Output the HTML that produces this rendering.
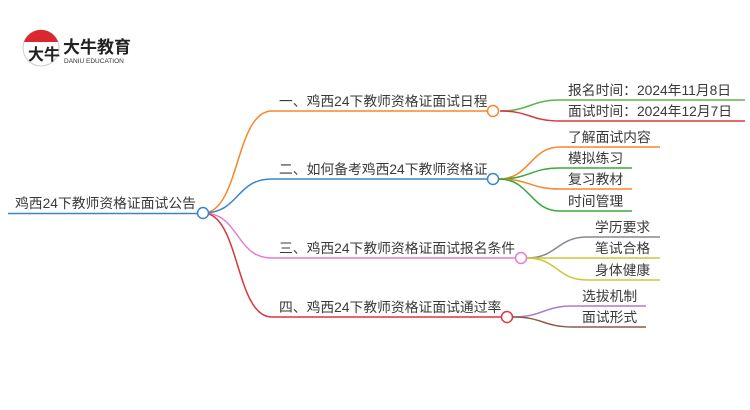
<!DOCTYPE html>
<html><head><meta charset="utf-8"><style>
html,body{margin:0;padding:0;background:#fff;width:750px;height:410px;overflow:hidden}
text{font-family:"Liberation Sans","Noto Sans CJK SC",sans-serif;font-size:13.8px;fill:#3a3a3a}
</style></head><body>
<svg width="750" height="410" viewBox="0 0 750 410" xmlns="http://www.w3.org/2000/svg">
<!-- logo -->
<circle cx="41" cy="48" r="18" fill="#fff" stroke="#ccc" stroke-width="1"/>
<path d="M24,42 A18,18 0 0 1 58,42 Z" fill="#d9282f"/>
<text x="28" y="60" style="font-size:16px;fill:#222;font-weight:bold">大牛</text>
<text x="63" y="53" style="font-size:17px;fill:#222;font-weight:bold">大牛教育</text>
<text x="64" y="63" style="font-size:6.5px;fill:#333">DANIU EDUCATION</text>

<g fill="none" stroke-width="1.5">
<line x1="8" y1="213.5" x2="197" y2="213.5" stroke="#3a86c8"/>
<path d="M203,213 C240,213 235,111 272,111 L487,111" stroke="#f7862a"/>
<path d="M203,213 C240,213 235,179 272,179 L487,179" stroke="#3a86c8"/>
<path d="M203,213 C240,213 235,258 272,258 L515,258" stroke="#e57dc8"/>
<path d="M203,213 C240,213 235,317 272,317 L501,317" stroke="#d9363e"/>
<path d="M500,111 C530,111 530,100 560,100 L745,100" stroke="#5cb54a"/>
<path d="M500,111 C530,111 530,121 560,121 L745,121" stroke="#d9363e"/>
<path d="M499,179 C530,179 530,147 560,147 L660,147" stroke="#f7862a"/>
<path d="M499,179 C530,179 530,168 560,168 L632,168" stroke="#3aa83a"/>
<path d="M499,179 C530,179 530,189 560,189 L632,189" stroke="#f7862a"/>
<path d="M499,179 C530,179 530,211 560,211 L632,211" stroke="#3aa83a"/>
<path d="M527,258 C557,258 557,237 587,237 L660,237" stroke="#888"/>
<path d="M527,258 L660,258" stroke="#c8c83a"/>
<path d="M527,258 C557,258 557,280 587,280 L660,280" stroke="#c8c83a"/>
<path d="M513,317 C543,317 543,306 573,306 L646,306" stroke="#a77fd0"/>
<path d="M513,317 C543,317 543,327 573,327 L646,327" stroke="#8b5a4a"/>
</g>
<g fill="#fff" stroke-width="1.5">
<circle cx="203" cy="213" r="5.5" stroke="#3a86c8"/>
<circle cx="493" cy="111" r="5.5" stroke="#f7862a"/>
<circle cx="493" cy="179" r="5.5" stroke="#3a86c8"/>
<circle cx="521" cy="258" r="5.5" stroke="#e57dc8"/>
<circle cx="507" cy="317" r="5.5" stroke="#d9363e"/>
</g>
<text x="15" y="208">鸡西24下教师资格证面试公告</text>
<text x="279" y="106">一、鸡西24下教师资格证面试日程</text>
<text x="279" y="174">二、如何备考鸡西24下教师资格证</text>
<text x="279" y="253">三、鸡西24下教师资格证面试报名条件</text>
<text x="279" y="312">四、鸡西24下教师资格证面试通过率</text>
<text x="568" y="95">报名时间：2024年11月8日</text>
<text x="568" y="116">面试时间：2024年12月7日</text>
<text x="568" y="142">了解面试内容</text>
<text x="568" y="163">模拟练习</text>
<text x="568" y="184">复习教材</text>
<text x="568" y="206">时间管理</text>
<text x="595" y="232">学历要求</text>
<text x="595" y="253">笔试合格</text>
<text x="595" y="275">身体健康</text>
<text x="582" y="301">选拔机制</text>
<text x="582" y="322">面试形式</text>
</svg>
</body></html>
